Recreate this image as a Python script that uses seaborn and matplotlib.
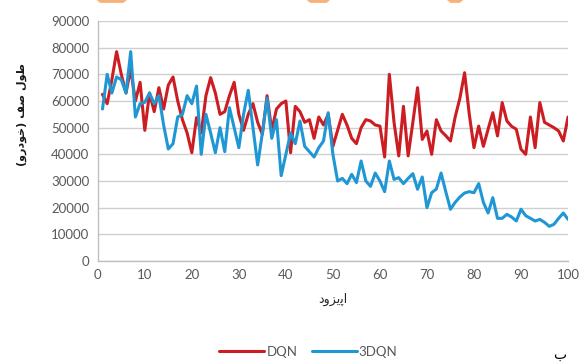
import numpy as np
import pandas as pd
import matplotlib
matplotlib.use("Agg")
import matplotlib.pyplot as plt
import seaborn as sns
from matplotlib.patches import Polygon

# episode numbers and queue lengths
episodes = list(range(1, 101))

dqn = [62500, 59000, 68000, 78500, 70000, 63000, 72000, 60000, 67000, 49000,
       63000, 56000, 65000, 57000, 66000, 69000, 60000, 53000, 48000, 40600,
       53750, 48000, 62000, 68750, 63000, 55000, 56000, 62000, 67000, 55000,
       49000, 55000, 59000, 52000, 47500, 62000, 49000, 57000, 59000, 60000,
       40600, 58000, 56000, 52000, 53000, 46000, 54000, 51000, 55000, 43000,
       49000, 55000, 51000, 46000, 44000, 50000, 53000, 52500, 51000, 50600,
       39000, 70000, 52000, 39400, 58000, 39400, 52000, 65000, 45600, 48750,
       40000, 53000, 48750, 47000, 45000, 54000, 61000, 70600, 55000, 42500,
       50600, 43000, 49400, 55600, 46900, 59400, 52500, 50500, 49400, 41900,
       40000, 54000, 42500, 59400, 52000, 51000, 50000, 48750, 45000, 54000]

dqn3 = [57000, 70000, 63000, 69000, 68000, 63000, 78500, 54000, 59000, 59500,
        63000, 59000, 62000, 51000, 42000, 44000, 54000, 55000, 62000, 59000,
        65600, 40000, 55000, 48000, 40600, 50000, 41000, 57500, 50000, 42500,
        55000, 64000, 50000, 36000, 48000, 61000, 46000, 53000, 32000, 40000,
        48000, 44000, 52500, 43000, 41000, 39000, 42500, 45000, 55600, 40000,
        30000, 31000, 29000, 32500, 29400, 37500, 30000, 28000, 33000, 30000,
        26000, 37500, 30600, 31250, 29000, 31000, 32750, 26900, 31500, 20000,
        25600, 27000, 33000, 26000, 19400, 22000, 24000, 25500, 26000, 25600,
        29000, 22000, 18000, 23750, 16000, 16000, 17500, 16500, 15000, 19400,
        17000, 16000, 15000, 15600, 14500, 13000, 13750, 16000, 18000, 15600]

series_names = ["DQN", "3DQN"]
colors = ["#CC1D22", "#1F97D4"]

y_label = "(\uFEED\uFEAD\uFEA9\uFEEE\uFEA7) \uFED2\uFEBB \uFEDD\uFEEE\uFEC3"  # طول صف (خودرو)
x_label = "\uFEA9\uFEED\uFEB0\uFBFE\uFB58\uFE8D"  # اپیزود

df = pd.DataFrame({
    "episode": episodes * 2,
    "queue": dqn + dqn3,
    "method": [series_names[0]] * len(dqn) + [series_names[1]] * len(dqn3),
})

sns.set_style("white")
plt.rcParams["font.family"] = ["Lato", "DejaVu Sans"]

fig = plt.figure(figsize=(5.82, 3.62), dpi=100)
ax = fig.add_axes([0.168, 0.279, 0.808, 0.663])

sns.lineplot(data=df, x="episode", y="queue", hue="method",
             palette=colors, linewidth=2.2, ax=ax, legend=False,
             solid_joinstyle="round", solid_capstyle="round")

ax.set_xlim(0, 100)
ax.set_ylim(0, 90000)
ax.set_xticks(range(0, 101, 10))
ax.set_yticks(range(0, 90001, 10000))
ax.grid(axis="y", color="#d0d0d0", linewidth=1)
ax.set_axisbelow(True)
for s in ["top", "right"]:
    ax.spines[s].set_visible(False)
for s in ["left", "bottom"]:
    ax.spines[s].set_color("#bfbfbf")
    ax.spines[s].set_linewidth(1)
ax.tick_params(axis="both", length=0, labelsize=9.5, labelcolor="#595959", pad=6)

ax.set_xlabel(x_label, family=["DejaVu Sans"], fontsize=9, color="#262626", labelpad=8)
ax.set_ylabel("")
fig.text(0.038, 0.685, y_label, rotation=90, family=["DejaVu Sans"], fontsize=8,
         fontweight="bold", color="#1a1a1a", ha="center", va="center")

handles = [plt.Line2D([], [], color=c, linewidth=2.2) for c in colors]
fig.legend(handles, series_names, loc="center", bbox_to_anchor=(0.53, 0.028),
           ncol=2, frameon=False, handlelength=3.4, handletextpad=0.15,
           columnspacing=1.1, prop={"size": 9.5}, labelcolor="#595959")

fig.text(0.962, 0.02, "\u0628", family=["DejaVu Sans"], fontsize=10, color="#000000",
         ha="center", va="center")

# orange marks at the top edge
for x0, w in [(0.166, 0.052), (0.527, 0.04), (0.768, 0.028)]:
    fig.patches.append(Polygon([[x0, 1.0], [x0 + w, 1.0], [x0 + w - 0.006, 0.992], [x0 + 0.006, 0.992]],
                               closed=True, transform=fig.transFigure,
                               facecolor="#F7B27A", edgecolor="none"))

fig.savefig("out.png", dpi=100)
